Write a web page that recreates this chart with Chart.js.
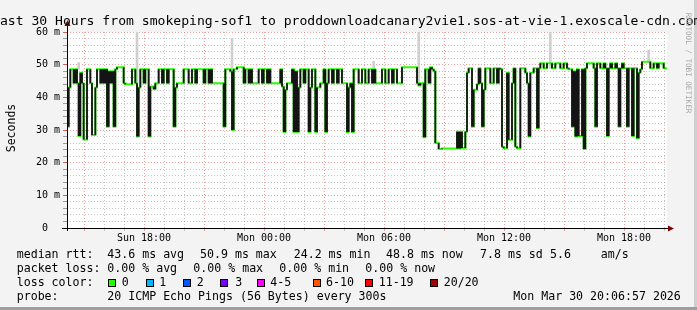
<!DOCTYPE html>
<html><head><meta charset="utf-8">
<style>html,body{margin:0;padding:0;background:#f3f3f3;overflow:hidden}canvas{display:block}</style>
<script src="https://cdn.jsdelivr.net/npm/chart.js@4.4.1/dist/chart.umd.min.js"></script>
</head><body><canvas id="c" width="697" height="310"></canvas>
<script>
// ---- data ----
const START_HOUR = 14.15;          // hours since Sun 00:00 at left edge
const SPAN_HOURS = 30;
const STEP_MINUTES = 5;
const medianRtt = [
31,43,48.6,48.6,44.3,48.6,44.3,28.2,47.5,44.3,
27.1,27.1,48.6,48.6,44.3,28.5,28.5,43,48.6,48.6,
44.3,48.6,44.3,48.6,31,48,44.3,48,31,48.6,
49.2,49.2,49.2,49.2,44.3,44,44,44,44,48.6,
48.6,44.3,28,43,48.6,48.6,44.3,48.6,48.6,28,
43.3,43.3,42.5,44.3,44.3,48.6,48.6,44.3,48.6,48.6,
44.3,48.6,48.6,48.6,31,43,44.3,44.3,44.3,44.3,
48.6,48.6,48.6,44.3,44.3,48.6,48.6,44.3,48.6,48.6,
48.6,48.6,44.3,48.6,48.6,44.3,48.6,44.3,44.3,44.3,
44.3,44.3,44.3,44.3,31,48.6,48.6,48.6,47.9,30,
48.6,48.6,49.2,49.2,49.2,49.2,44.3,48.6,48.6,44.3,
48.6,44.3,44.3,44.3,44.3,48.6,48.6,44.3,48.6,48.6,
44.3,48.6,44.3,44.3,44.3,44.3,44.3,44.3,48.6,43.3,
29.4,42.3,44.3,44.3,44.3,48.6,29.4,48,29.4,43,
48.6,48.6,44.3,48.6,48.6,29.4,43,48.6,48.6,29.4,
43,43,44.3,44.3,48.6,29.4,44.3,48.6,48.6,44.3,
48.6,48.6,44.3,48.6,48.6,44.3,44.3,44.3,29.4,43,
44.3,29.4,48.6,48.6,48.6,44.3,44.3,48.6,48.6,44.3,
44.3,48.6,48.6,44.3,48.6,44.3,44.3,44.3,44.3,48.6,
48.6,44.3,44.3,48.6,48.6,44.3,48.6,48.6,44.3,44.3,
44.3,49.2,49.2,49.2,49.2,49.2,49.2,49.2,49.2,49.2,
44.3,43.6,44.3,44.3,27.8,48.6,48.6,44.3,49.2,48.6,
48,26,26,24.2,24.2,24.3,24.3,24.3,24.3,24.3,
24.3,24.3,24.3,24.3,29.5,24.3,29.5,24.5,24.5,29.5,
47.5,48.9,48.9,31,42.3,42.3,44,48.9,44.3,31,
42.3,48.9,48.9,48.9,44.3,44.3,48.9,48.9,44.3,48.9,
48.6,24.9,24.4,24.4,47.5,27,27,44.3,48.9,24.9,
24.4,24.4,48.9,48.9,48.9,47.5,44.3,28,47.5,47.5,
48.9,48.9,30.5,48.9,50.4,50.4,48.9,48.9,50.4,50.4,
50.4,48.9,48.9,50.4,50.4,50.4,48.9,48.9,50.4,50.4,
48.9,48.6,48.6,31,48,28,48.6,28.2,28.2,48.6,
24.2,48.9,50.4,50.4,50.4,50.4,48.9,31,50.4,50.4,
48.9,48.9,50.4,48.9,28.2,48.9,50.4,48.9,48.9,50.4,
48.9,31,48.9,50.4,48.9,48.9,31,48.9,48.9,28.2,
48.9,48.9,27.5,47.5,48.6,50.9,50.9,50.9,50.9,50.9,
48.9,48.9,50.4,50.4,48.9,50.4,50.4,50.4,48.9,48.8
];
// light grey "smoke" spikes: sample index, low, high
const smokeIdx = [7, 42, 58, 99, 184, 211, 290, 349];
const smokeLo  = [48.6, 44.3, 44.3, 47.9, 48.6, 44.3, 48.9, 50.9];
const smokeHi  = [50.6, 60, 48.6, 58, 51, 60, 60, 54.5];

const xTickHours  = [18, 24, 30, 36, 42];
const xTickLabels = ['Sun 18:00', 'Mon 00:00', 'Mon 06:00', 'Mon 12:00', 'Mon 18:00'];
const yTickValues = [0, 10, 20, 30, 40, 50, 60];
const yTickLabels = ['0  ', '10 m', '20 m', '30 m', '40 m', '50 m', '60 m'];

const titleText = 'Last 30 Hours from smokeping-sof1 to proddownloadcanary2vie1.sos-at-vie-1.exoscale-cdn.com';
const rttStats  = ['43.6 ms avg', '50.9 ms max', '24.2 ms min', '48.8 ms now', '7.8 ms sd', '5.6', 'am/s'];
const lossStats = ['0.00 % avg', '0.00 % max', '0.00 % min', '0.00 % now'];
const lossLabels = ['0', '1', '2', '3', '4-5', '6-10', '11-19', '20/20'];
const lossColors = ['#26ff00', '#00b8ff', '#0059ff', '#7e00ff', '#ff00ff', '#ff5500', '#ff0000', '#a10000'];
const probeText = '20 ICMP Echo Pings (56 Bytes) every 300s';
const dateText  = 'Mon Mar 30 20:06:57 2026';
const watermark = 'RRDTOOL / TOBI OETIKER';

// ---- build datasets ----
const stepH = STEP_MINUTES / 60;
const tAt = i => START_HOUR + i * stepH;
const greenPts = medianRtt.map((v, i) => ({x: tAt(i), y: v}));
greenPts.push({x: tAt(medianRtt.length), y: medianRtt[medianRtt.length - 1]});
const darkPts = [];
for (let i = 1; i < medianRtt.length; i++) {
  if (medianRtt[i] !== medianRtt[i - 1]) {
    darkPts.push({x: tAt(i), y: medianRtt[i - 1]}, {x: tAt(i), y: medianRtt[i]}, {x: tAt(i), y: null});
  }
}
const smokePts = smokeIdx.map((k, j) => ({x: tAt(k), y: [smokeLo[j], smokeHi[j]]}));

const GRID = 'rgba(150,150,150,0.55)';
const MGRID = 'rgba(225,110,110,0.65)';
const MONO = "'DejaVu Sans Mono', monospace";

const frame = {
  id: 'frame',
  beforeDraw(chart) {
    const {ctx, chartArea: a} = chart;
    ctx.save();
    ctx.fillStyle = '#f3f3f3';
    ctx.fillRect(0, 0, 697, 310);
    ctx.fillStyle = '#9e9e9e';
    ctx.fillRect(0, 307, 697, 3);
    ctx.fillStyle = '#cfcfcf';
    ctx.fillRect(694, 0, 3, 307);
    ctx.fillStyle = '#ffffff';
    ctx.fillRect(a.left, a.top, a.right - a.left, a.bottom - a.top);
    ctx.restore();
  },
  afterDraw(chart) {
    const {ctx, chartArea: a} = chart;
    ctx.save();
    // axes
    ctx.strokeStyle = '#000';
    ctx.lineWidth = 1;
    ctx.beginPath();
    ctx.moveTo(a.left + 0.5, a.bottom + 3);
    ctx.lineTo(a.left + 0.5, a.top - 8);
    ctx.moveTo(a.left - 5, a.bottom + 0.5);
    ctx.lineTo(a.right + 3, a.bottom + 0.5);
    ctx.stroke();
    ctx.fillStyle = '#800000';
    ctx.beginPath();
    ctx.moveTo(a.left - 2.5, a.top - 6);
    ctx.lineTo(a.left + 3.5, a.top - 6);
    ctx.lineTo(a.left + 0.5, a.top - 12);
    ctx.closePath(); ctx.fill();
    ctx.beginPath();
    ctx.moveTo(a.right + 1, a.bottom - 2.5);
    ctx.lineTo(a.right + 1, a.bottom + 3.5);
    ctx.lineTo(a.right + 7, a.bottom + 0.5);
    ctx.closePath(); ctx.fill();

    // title
    ctx.fillStyle = '#000';
    ctx.font = '13.1px ' + MONO;
    ctx.textBaseline = 'alphabetic';
    ctx.textAlign = 'left';
    ctx.fillText(titleText, -8, 25);

    // y title
    ctx.save();
    ctx.font = '11.5px ' + MONO;
    ctx.translate(15, 128);
    ctx.rotate(-Math.PI / 2);
    ctx.textAlign = 'center';
    ctx.fillText('Seconds', 0, 0);
    ctx.restore();

    // watermark
    ctx.save();
    ctx.font = '7.6px ' + MONO;
    ctx.fillStyle = '#a8a8a8';
    ctx.translate(685.5, 63);
    ctx.rotate(Math.PI / 2);
    ctx.textAlign = 'center';
    ctx.fillText(watermark, 0, 0);
    ctx.restore();

    // legend
    ctx.font = '11.6px ' + MONO;
    ctx.textBaseline = 'middle';
    ctx.textAlign = 'left';
    ctx.fillStyle = '#000';
    ctx.fillText('median rtt:', 16.7, 254.5);
    const rx = [107.3, 200, 293.7, 386, 480, 550, 600.7];
    rttStats.forEach((s, i) => ctx.fillText(s, rx[i], 254.5));
    ctx.fillText('packet loss:', 16.7, 268.5);
    const lx = [107.3, 193.3, 279.3, 365.3];
    lossStats.forEach((s, i) => ctx.fillText(s, lx[i], 268.5));
    ctx.fillText('loss color:', 16.7, 282.5);
    const bx = [108.3, 145.7, 182.7, 220, 257, 312.7, 365.3, 430.3];
    const tx = [121.7, 159.3, 196.7, 235.3, 270.3, 326, 378.7, 443.7];
    lossLabels.forEach((s, i) => {
      ctx.fillStyle = lossColors[i];
      ctx.fillRect(Math.round(bx[i]), 279, 8, 8);
      ctx.strokeStyle = '#000';
      ctx.lineWidth = 1;
      ctx.strokeRect(Math.round(bx[i]) + 0.5, 279.5, 7, 7);
      ctx.fillStyle = '#000';
      ctx.fillText(s, tx[i], 282.5);
    });
    ctx.fillText('probe:', 16.7, 296.5);
    ctx.fillText(probeText, 107.3, 296.5);
    ctx.fillText(dateText, 513.3, 296.5);
    ctx.restore();
  }
};

new Chart(document.getElementById('c'), {
  type: 'line',
  data: {
    datasets: [
      {type: 'bar', data: smokePts, backgroundColor: '#cfcfcf', barThickness: 2, order: 3, grouped: false},
      {data: greenPts, borderColor: '#26ff00', borderWidth: 2, stepped: true, pointRadius: 0, order: 2,
       borderJoinStyle: 'miter', borderCapStyle: 'butt', fill: false},
      {data: darkPts, borderColor: '#141414', borderWidth: 1.8, pointRadius: 0, spanGaps: false, order: 1,
       borderCapStyle: 'butt', fill: false}
    ]
  },
  options: {
    responsive: false,
    animation: false,
    devicePixelRatio: 1,
    events: [],
    layout: {padding: {top: 32, right: 30, left: 0, bottom: 0}},
    plugins: {legend: {display: false}, tooltip: {enabled: false}, title: {display: false}},
    scales: {
      x: {
        type: 'linear',
        offset: false,
        min: START_HOUR, max: START_HOUR + SPAN_HOURS,
        afterFit: s => { s.height = 82; },
        afterBuildTicks: s => {
          const t = [];
          for (let h = Math.ceil(START_HOUR); h <= START_HOUR + SPAN_HOURS; h++) t.push({value: h});
          s.ticks = t;
        },
        ticks: {
          autoSkip: false, maxRotation: 0, padding: 1, color: '#000',
          font: {family: MONO, size: 10},
          callback: v => { const k = xTickHours.indexOf(v); return k >= 0 ? xTickLabels[k] : ''; }
        },
        grid: {
          offset: false,
          color: c => (c.tick && c.tick.value % 3 === 0) ? MGRID : GRID,
          tickColor: c => (c.tick && c.tick.value % 3 === 0) ? MGRID : GRID,
          lineWidth: 1, drawTicks: true, tickLength: 3
        },
        border: {display: false, dash: [1, 2]}
      },
      y: {
        type: 'linear', min: 0, max: 60, offset: false,
        afterFit: s => { s.width = 67; },
        afterBuildTicks: s => {
          const t = [];
          for (let v = 0; v <= 60; v += 2) t.push({value: v});
          s.ticks = t;
        },
        ticks: {
          autoSkip: false, padding: 3, color: '#000',
          font: {family: MONO, size: 10},
          callback: v => { const k = yTickValues.indexOf(v); return k >= 0 ? yTickLabels[k] : ''; }
        },
        grid: {
          color: c => (c.tick && c.tick.value % 10 === 0) ? MGRID : GRID,
          tickColor: c => (c.tick && c.tick.value % 10 === 0) ? 'rgba(200,60,60,0.8)' : 'rgba(120,120,120,0.7)',
          lineWidth: 1, drawTicks: true, tickLength: 4
        },
        border: {display: false, dash: [1, 2]}
      }
    }
  },
  plugins: [frame]
});
</script>
</body></html>
